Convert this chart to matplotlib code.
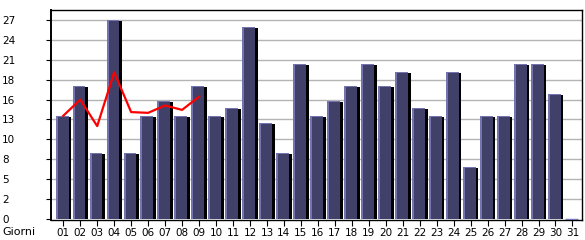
import numpy as np
import matplotlib
matplotlib.use("Agg")
import matplotlib.pyplot as plt

# visite per giorno del mese
giorni = ["%02d" % d for d in range(1, 32)]
visite = [14, 18, 9, 27, 9, 14, 16, 14, 18, 14, 15, 26, 13, 9, 21, 14,
          16, 18, 21, 18, 20, 15, 14, 20, 7, 14, 14, 21, 21, 17, 0]
# linea rossa (media), solo primi giorni
media = [14.0, 16.2, 12.6, 19.9, 14.5, 14.4, 15.4, 14.8, 16.6]

ymax = 27
ytick_vals = [ymax * k / 10 for k in range(11)]
ytick_labels = [str(int(v)) for v in ytick_vals]

col_face = "#404068"
col_light = "#7474b0"
col_shadow = "#000000"
col_grid = "#b4b4b4"

plt.rcParams["font.family"] = ["DejaVu Sans"]
plt.rcParams["font.size"] = 7.5

fig = plt.figure(figsize=(5.85, 2.4), dpi=100)
ax = fig.add_axes([50.7 / 585, 1 - 220 / 240, (582.3 - 50.7) / 585, 210 / 240])

x = np.arange(1, 32)
v = np.array(visite, dtype=float)
px = 1 / 16.97          # un pixel in unita' x
py = 27 / 200.0         # un pixel in unita' y

# ombra nera a destra
ax.bar(x + 0.31, np.clip(v - py, 0, None), width=0.15, align="edge",
       color=col_shadow, zorder=2)
# bordo chiaro (sinistra + sopra)
ax.bar(x - 0.45, v, width=0.76, align="edge", color=col_light, zorder=3)
# riempimento scuro
ax.bar(x - 0.45 + 2 * px, np.clip(v - py, 0, None), width=0.76 - 2 * px,
       align="edge", color=col_face, zorder=4)
# bordino superiore per le barre a zero
ax.hlines(v[v == 0], x[v == 0] - 0.45, x[v == 0] + 0.31, color=col_light,
          lw=1, zorder=4)

ax.plot(x[:len(media)], media, color="#ff0000", lw=1.6, zorder=5)

for yv in ytick_vals[1:]:
    ax.axhline(yv, color=col_grid, lw=1, zorder=1)

ax.set_xlim(0.26, 31.58)
ax.set_ylim(-py, ymax + 10 * py)

ax.set_xticks(x)
ax.set_xticklabels(giorni)
ax.set_yticks(ytick_vals)
ax.set_yticklabels(ytick_labels, ha="left")

ax.tick_params(axis="x", length=4.3, width=0.8, pad=1.5, colors="black")
ax.tick_params(axis="y", length=3.6, width=0.8, pad=31.5, colors="black")

for s in ax.spines.values():
    s.set_color("black")
    s.set_linewidth(1)
ax.spines["left"].set_linewidth(1.4)

fig.text(2 / 585, 1 - 232 / 240, "Giorni", ha="left", va="center", fontsize=8)

fig.savefig("out.png", dpi=100, facecolor="white")
